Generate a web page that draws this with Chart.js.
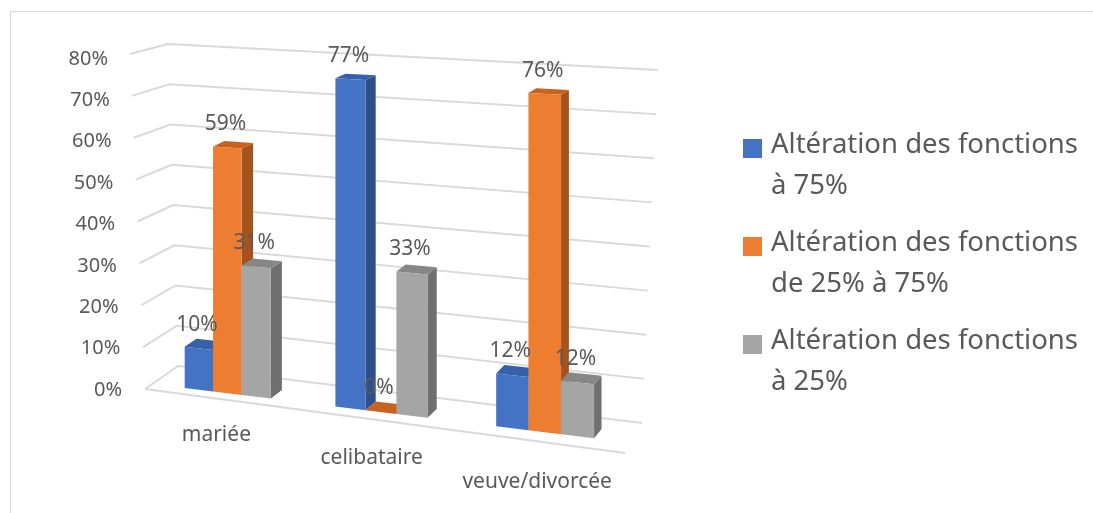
<!DOCTYPE html>
<html>
<head>
<meta charset="utf-8">
<script src="https://cdn.jsdelivr.net/npm/chart.js@4.4.0/dist/chart.umd.min.js"></script>
<style>
  html, body { margin: 0; padding: 0; background: #fff; overflow: hidden; }
  #frame { position: absolute; left: 10px; top: 11px; width: 1200px; height: 600px;
           border-left: 1px solid #d9d9d9; border-top: 1px solid #d9d9d9; }
  #chart { position: absolute; left: 0; top: 0; }
</style>
</head>
<body>
<div id="frame"></div>
<canvas id="chart" width="1093" height="513"></canvas>
<script>
// data
var categories = ['mariée', 'celibataire', 'veuve/divorcée'];
var seriesNames = ['Altération des fonctions à 75%', 'Altération des fonctions de 25% à 75%', 'Altération des fonctions à 25%'];
var above75 = [10, 77, 12];
var between25and75 = [59, 0, 76];
var below25 = [31, 33, 12];
var yMax = 80;
var yStep = 10;

// front / top / side shades of each series
var faces = [
    { front: '#4472C4', top: '#3660AA', side: '#2E4F8C' },
    { front: '#ED7D31', top: '#C8631F', side: '#A4531C' },
    { front: '#A5A5A5', top: '#878787', side: '#6F6F6F' }
];

var textColor = '#595959';
var gridColor = '#d9d9d9';
var font = '"Noto Sans", "DejaVu Sans", sans-serif';

// rough perspective of the 3D view (floor slopes down to the right)
function floorY(X) { return 388 + 0.123 * (X - 185); }
function fullH(X) { return 332 + 0.072 * (X - 210); }
function toX(u, mid) { var d = u - mid; return u + 0.0002 * d * d; }
function depthY(Y) { return -(4.5 + 0.013 * (Y - 77)); }
function lerp(a, b, t) { return a + (b - a) * t; }

function poly(ctx, pts, color) {
    ctx.beginPath();
    ctx.moveTo(pts[0][0], pts[0][1]);
    for (var i = 1; i < pts.length; i++) ctx.lineTo(pts[i][0], pts[i][1]);
    ctx.closePath();
    ctx.fillStyle = color;
    ctx.fill();
}

function drawBar(ctx, X1, X2, t, c) {
    var b1 = floorY(X1), b2 = floorY(X2);
    var y1 = b1 - t * fullH(X1), y2 = b2 - t * fullH(X2);
    var dx = 14 - 0.011 * X2;
    var dt1 = depthY(y1), dt2 = depthY(y2), db2 = depthY(b2);
    poly(ctx, [[X2, y2], [X2 + dx, y2 + dt2], [X2 + dx, b2 + db2], [X2, b2]], c.side);
    poly(ctx, [[X1, y1], [X2, y2], [X2 + dx, y2 + dt2], [X1 + dx, y1 + dt1]], c.top);
    if (t > 0) poly(ctx, [[X1, y1], [X2, y2], [X2, b2], [X1, b1]], c.front);
    return { x: (X1 + X2) / 2 - 2, y: y1 };
}

function wrap(ctx, text, maxW) {
    var words = text.split(' '), lines = [], cur = '';
    words.forEach(function (w) {
        var test = cur ? cur + ' ' + w : w;
        if (ctx.measureText(test).width > maxW && cur) { lines.push(cur); cur = w; }
        else cur = test;
    });
    lines.push(cur);
    return lines;
}

var view3d = {
    id: 'view3d',
    beforeDatasetsDraw: function () { return false; }, // bars are drawn below instead
    afterDraw: function (chart) {
        var ctx = chart.ctx;
        var xs = chart.scales.x, ys = chart.scales.y;
        var mid = (chart.chartArea.left + chart.chartArea.right) / 2;
        var span = ys.bottom - ys.top;

        ctx.save();
        // walls
        ctx.strokeStyle = gridColor;
        ctx.lineWidth = 2;
        ctx.font = '20px ' + font;
        ctx.fillStyle = textColor;
        ctx.textAlign = 'right';
        ctx.textBaseline = 'middle';
        for (var v = 0; v <= yMax; v += yStep) {
            var py = ys.getPixelForValue(v);
            var t = (ys.bottom - py) / span;
            ctx.beginPath();
            ctx.moveTo(lerp(145, 130, t), lerp(389, 54, t));
            ctx.lineTo(lerp(178, 168, t), lerp(366, 44, t));
            ctx.lineTo(lerp(642, 658, t), lerp(423, 70, t));
            ctx.stroke();
            ctx.fillText(v + '%', lerp(122, 108, t), py);
        }
        // front edge of the floor
        ctx.beginPath();
        ctx.moveTo(145, 389);
        ctx.lineTo(625, 453);
        ctx.stroke();

        // bars
        var tops = [];
        categories.forEach(function (cat, i) {
            chart.data.datasets.forEach(function (ds, d) {
                var el = chart.getDatasetMeta(d).data[i];
                var X1 = toX(el.x - el.width / 2, mid);
                var X2 = toX(el.x + el.width / 2, mid);
                var t = (ys.bottom - ys.getPixelForValue(ds.data[i])) / span;
                var p = drawBar(ctx, X1, X2, t, faces[d]);
                p.text = ds.data[i] + '%';
                tops.push(p);
            });
        });

        // data labels
        ctx.font = '21px ' + font;
        ctx.textAlign = 'center';
        ctx.fillStyle = textColor;
        tops.forEach(function (p) { ctx.fillText(p.text, p.x, p.y - 22); });

        // category labels
        categories.forEach(function (cat, i) {
            var X = toX(xs.getPixelForTick(i), mid);
            var lx = X - 11 + 0.011 * (X - 227);
            var ly = floorY(X) + 42 + 0.025 * (X - 227);
            ctx.fillText(cat, lx, ly);
        });

        // legend
        ctx.font = '27.5px ' + font;
        ctx.textAlign = 'left';
        chart.data.datasets.forEach(function (ds, d) {
            var cy = 148 + d * 98;
            ctx.fillStyle = faces[d].front;
            ctx.fillRect(743, cy - 9, 19, 19);
            ctx.fillStyle = textColor;
            wrap(ctx, ds.label, 320).forEach(function (line, k) {
                ctx.fillText(line, 771, cy - 3 + k * 41);
            });
        });
        ctx.restore();
    }
};

var chart = new Chart(document.getElementById('chart').getContext('2d'), {
    type: 'bar',
    data: {
        labels: categories,
        datasets: [
            { label: seriesNames[0], data: above75, backgroundColor: faces[0].front },
            { label: seriesNames[1], data: between25and75, backgroundColor: faces[1].front },
            { label: seriesNames[2], data: below25, backgroundColor: faces[2].front }
        ]
    },
    options: {
        responsive: false,
        animation: false,
        devicePixelRatio: 1,
        layout: { padding: { left: 143, right: 474, top: 59, bottom: 123 } },
        datasets: { bar: { categoryPercentage: 0.58, barPercentage: 1 } },
        plugins: { legend: { display: false }, tooltip: { enabled: false } },
        scales: {
            x: { display: false },
            y: { display: false, min: 0, max: yMax, ticks: { stepSize: yStep } }
        }
    },
    plugins: [view3d]
});
</script>
</body>
</html>
